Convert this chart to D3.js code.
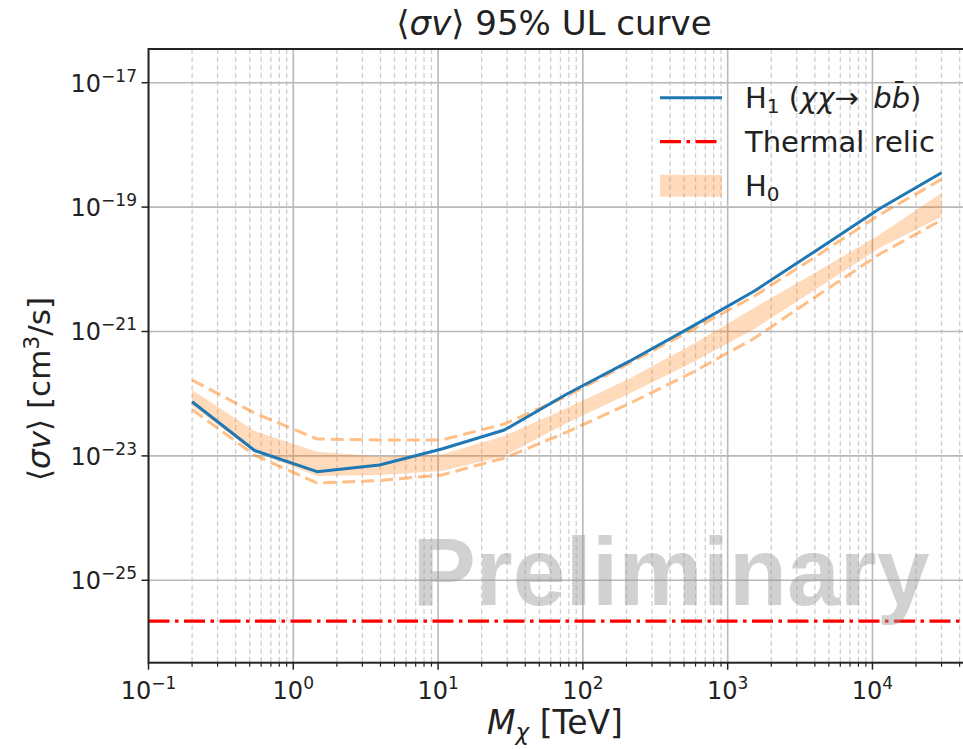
<!DOCTYPE html>
<html><head><meta charset="utf-8">
<script src="https://cdn.jsdelivr.net/npm/d3@7"></script>
<style>html,body{margin:0;padding:0;background:#fff;overflow:hidden}</style>
</head><body>
<svg id="c" width="963" height="749"></svg>
<script>
// ---- data ----
const mass      = [0.2, 0.54, 1.46, 3.94, 10.6, 28.7, 77.6, 210, 566, 1530, 4120, 11100, 30000];
const h1        = [7.43e-23, 1.22e-23, 5.57e-24, 7.14e-24, 1.29e-23, 2.61e-23, 9.89e-23, 3.33e-22, 1.20e-21, 4.48e-21, 2.03e-20, 9.31e-20, 3.57e-19];
const h0_95_hi  = [1.66e-22, 4.90e-23, 1.87e-23, 1.80e-23, 1.80e-23, 3.26e-23, 9.18e-23, 3.12e-22, 1.06e-21, 3.72e-21, 1.64e-20, 7.46e-20, 2.80e-19];
const h0_68_hi  = [1.15e-22, 2.51e-23, 1.17e-23, 9.77e-24, 1.05e-23, 2.09e-23, 5.89e-23, 1.75e-22, 6.14e-22, 2.42e-21, 9.14e-21, 3.56e-20, 1.69e-19];
const h0_68_lo  = [6.34e-23, 1.16e-23, 4.75e-24, 4.93e-24, 5.71e-24, 9.95e-24, 3.38e-23, 1.01e-22, 3.15e-22, 1.10e-21, 4.88e-21, 2.18e-20, 7.01e-20];
const h0_95_lo  = [5.57e-23, 1.03e-23, 3.66e-24, 4.03e-24, 4.93e-24, 9.25e-24, 2.42e-23, 6.95e-23, 2.18e-22, 7.78e-22, 3.72e-21, 1.73e-20, 6.21e-20];
const thermalRelic = 2.2e-26;
const xTickExps = [-1, 0, 1, 2, 3, 4];
const yTickExps = [-17, -19, -21, -23, -25];

// ---- layout ----
const L = 148.5, T = 49, B = 662.7, R = 966;
const FONT = "DejaVu Sans, sans-serif";
const svg = d3.select("#c");
const x = d3.scaleLog().domain([0.1, Math.pow(10, 4.646)]).range([L, R]);
const y = d3.scaleLog().domain([Math.pow(10, -26.325), Math.pow(10, -16.458)]).range([B, T]);

svg.append("defs").append("clipPath").attr("id", "clip")
  .append("rect").attr("x", L).attr("y", T).attr("width", R - L).attr("height", B - T);

// grid
const g = svg.append("g").attr("clip-path", "url(#clip)");
const minor = [];
for (let e = -1; e <= 4; e++) for (let m = 2; m <= 9; m++) minor.push(m * Math.pow(10, e));
g.selectAll(".mg").data(minor).enter().append("line")
  .attr("x1", d => x(d)).attr("x2", d => x(d)).attr("y1", T).attr("y2", B)
  .attr("stroke", "#cfcfcf").attr("stroke-width", 1.3).attr("stroke-dasharray", "5,3");
g.selectAll(".xg").data(xTickExps).enter().append("line")
  .attr("x1", d => x(Math.pow(10, d))).attr("x2", d => x(Math.pow(10, d))).attr("y1", T).attr("y2", B)
  .attr("stroke", "#b8b8b8").attr("stroke-width", 1.6);
g.selectAll(".yg").data(yTickExps).enter().append("line")
  .attr("x1", L).attr("x2", R).attr("y1", d => y(Math.pow(10, d))).attr("y2", d => y(Math.pow(10, d)))
  .attr("stroke", "#b8b8b8").attr("stroke-width", 1.6);

// band
const idx = mass.map((_, i) => i);
g.append("path").datum(idx)
  .attr("d", d3.area().x(i => x(mass[i])).y0(i => y(h0_68_lo[i])).y1(i => y(h0_68_hi[i])))
  .attr("fill", "#ff7f0e").attr("fill-opacity", 0.28);
const line = arr => d3.line().x(i => x(mass[i])).y(i => y(arr[i]));
[h0_95_hi, h0_95_lo].forEach(a => {
  g.append("path").datum(idx).attr("d", line(a))
    .attr("fill", "none").attr("stroke", "#ff7f0e").attr("stroke-opacity", 0.5)
    .attr("stroke-width", 3).attr("stroke-dasharray", "13,6");
});
g.append("path").datum(idx).attr("d", line(h1))
  .attr("fill", "none").attr("stroke", "#1f77b4").attr("stroke-width", 3).attr("stroke-linejoin", "round");
g.append("line").attr("x1", L).attr("x2", R).attr("y1", y(thermalRelic)).attr("y2", y(thermalRelic))
  .attr("stroke", "#ff0000").attr("stroke-width", 3.2).attr("stroke-dasharray", "21,5.5,3.5,5.5");

// watermark
svg.append("text").attr("x", 671).attr("y", 605).attr("text-anchor", "middle")
  .attr("font-family", "Liberation Sans, Arial, sans-serif").attr("font-weight", "bold")
  .attr("font-size", 96).attr("textLength", 517).attr("lengthAdjust", "spacingAndGlyphs")
  .attr("fill", "#9a9a9a").attr("fill-opacity", 0.45).text("Preliminary");

// spines
svg.append("rect").attr("x", L).attr("y", T).attr("width", R - L).attr("height", B - T)
  .attr("fill", "none").attr("stroke", "#222").attr("stroke-width", 2);

// x ticks
const ax = svg.append("g");
ax.selectAll(".xmt").data(minor.filter(d => x(d) < 963)).enter().append("line")
  .attr("x1", d => x(d)).attr("x2", d => x(d)).attr("y1", B).attr("y2", B + 4)
  .attr("stroke", "#222").attr("stroke-width", 1.2);
ax.selectAll(".xMt").data(xTickExps).enter().append("line")
  .attr("x1", d => x(Math.pow(10, d))).attr("x2", d => x(Math.pow(10, d))).attr("y1", B).attr("y2", B + 7)
  .attr("stroke", "#222").attr("stroke-width", 1.5);
const xl = ax.selectAll(".xl").data(xTickExps).enter().append("text")
  .attr("x", d => x(Math.pow(10, d))).attr("y", 699).attr("text-anchor", "middle")
  .attr("font-family", FONT).attr("font-size", 24).attr("fill", "#222");
xl.append("tspan").text("10");
xl.append("tspan").attr("dy", -10).attr("font-size", 17).text(d => d < 0 ? "\u2212" + (-d) : d);

// y ticks
ax.selectAll(".yMt").data(yTickExps).enter().append("line")
  .attr("x1", L - 7).attr("x2", L).attr("y1", d => y(Math.pow(10, d))).attr("y2", d => y(Math.pow(10, d)))
  .attr("stroke", "#222").attr("stroke-width", 1.5);
const yl = ax.selectAll(".yl").data(yTickExps).enter().append("text")
  .attr("x", 137).attr("y", d => y(Math.pow(10, d)) + 9).attr("text-anchor", "end")
  .attr("font-family", FONT).attr("font-size", 24).attr("fill", "#222");
yl.append("tspan").text("10");
yl.append("tspan").attr("dy", -10).attr("font-size", 17).text(d => "\u2212" + (-d));

// title
const tt = svg.append("text").attr("x", 554).attr("y", 35).attr("text-anchor", "middle")
  .attr("font-family", FONT).attr("font-size", 34).attr("fill", "#222");
tt.append("tspan").text("\u27E8");
tt.append("tspan").attr("font-style", "italic").text("\u03C3v");
tt.append("tspan").text("\u27E9 95% UL curve");

// x label
const xt = svg.append("text").attr("x", 555).attr("y", 734).attr("text-anchor", "middle")
  .attr("font-family", FONT).attr("font-size", 33).attr("fill", "#222");
xt.append("tspan").attr("font-style", "italic").text("M");
xt.append("tspan").attr("font-style", "italic").attr("font-size", 23).attr("dy", 6).text("\u03C7");
xt.append("tspan").attr("dy", -6).text(" [TeV]");

// y label
const yt = svg.append("text").attr("transform", "translate(50,389) rotate(-90)")
  .attr("text-anchor", "middle").attr("font-family", FONT).attr("font-size", 31).attr("fill", "#222");
yt.append("tspan").text("\u27E8");
yt.append("tspan").attr("font-style", "italic").text("\u03C3v");
yt.append("tspan").text("\u27E9 [cm");
yt.append("tspan").attr("font-size", 22).attr("dy", -11).text("3");
yt.append("tspan").attr("dy", 11).text("/s]");

// legend
const lg = svg.append("g");
const rows = [97.7, 141.7, 185.7];
lg.append("line").attr("x1", 660).attr("x2", 722).attr("y1", rows[0]).attr("y2", rows[0])
  .attr("stroke", "#1f77b4").attr("stroke-width", 3);
lg.append("line").attr("x1", 660).attr("x2", 722).attr("y1", rows[1]).attr("y2", rows[1])
  .attr("stroke", "#ff0000").attr("stroke-width", 3.2).attr("stroke-dasharray", "21,5.5,3.5,5.5");
lg.append("rect").attr("x", 660).attr("y", rows[2] - 11).attr("width", 62).attr("height", 22)
  .attr("fill", "#ff7f0e").attr("fill-opacity", 0.28);
const t1 = lg.append("text").attr("x", 745).attr("y", rows[0] + 10)
  .attr("font-family", FONT).attr("font-size", 29).attr("fill", "#222");
t1.append("tspan").text("H");
t1.append("tspan").attr("font-size", 20).attr("dy", 5).text("1");
t1.append("tspan").attr("dy", -5).text(" (");
t1.append("tspan").attr("font-style", "italic").text("\u03C7\u03C7");
t1.append("tspan").text("\u2192\u2002");
t1.append("tspan").attr("font-style", "italic").text("bb\u0304");
t1.append("tspan").text(")");
lg.append("text").attr("x", 745).attr("y", rows[1] + 10)
  .attr("font-family", FONT).attr("font-size", 29).attr("fill", "#222").text("Thermal relic");
const t3 = lg.append("text").attr("x", 745).attr("y", rows[2] + 10)
  .attr("font-family", FONT).attr("font-size", 29).attr("fill", "#222");
t3.append("tspan").text("H");
t3.append("tspan").attr("font-size", 20).attr("dy", 5).text("0");
</script>
</body></html>
